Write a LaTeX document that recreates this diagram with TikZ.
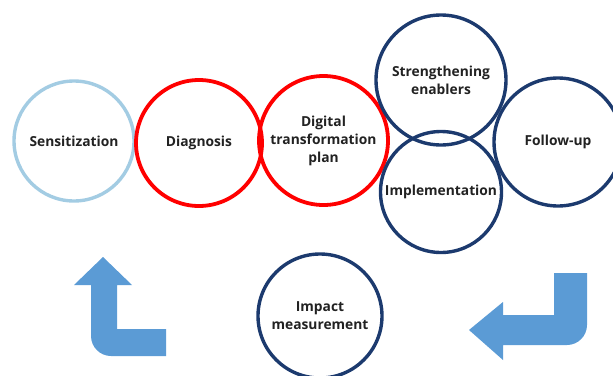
\documentclass[tikz,border=0pt]{standalone}
\usepackage{fontspec}
\setmainfont{Open Sans}
\definecolor{navy}{HTML}{1C3A6E}
\definecolor{paleblue}{HTML}{A3CCE3}
\definecolor{arrowblue}{HTML}{5B9BD5}
\definecolor{labelgray}{HTML}{222222}
\begin{document}
\begin{tikzpicture}[x=1pt,y=-1pt,
  stage/.style={circle,inner sep=0pt,align=center,text=labelgray,
    font=\bfseries\fontsize{13.8}{18}\selectfont},
  navystage/.style={stage,draw=navy,line width=3.4pt},
  redstage/.style={stage,draw=red,line width=3.8pt},
  palestage/.style={stage,draw=paleblue,line width=3.4pt},
  turnarrow/.style={fill=arrowblue,draw=none}]
\useasboundingbox (0,0) rectangle (613,375);
\clip (0,0) rectangle (613,375);

% stages of the cycle
\node[palestage,minimum size=120pt] (sens) at (74,141) {Sensitization};
\node[redstage,minimum size=126pt] (diag) at (199,143) {\raisebox{2pt}{Diagnosis}};
\node[redstage,minimum size=129pt] (plan) at (323.5,140.5) {Digital\\transformation\\plan};
\node[navystage,minimum size=130pt] (enab) at (441,80) {Strengthening\\enablers};
\node[navystage,minimum size=121pt] (impl) at (441,192) {\raisebox{-3pt}{Implementation}};
\node[navystage,minimum size=128pt] (foll) at (558,142) {\raisebox{-3pt}{Follow-up}};
\node[navystage,minimum size=124pt] (meas) at (320,316) {Impact\\measurement};

% return arrow on the right, pointing left
\fill[turnarrow] (554,273) -- (587,273) -- (587,325)
  .. controls (587,336) and (578,345) .. (567,345)
  -- (503,345) -- (503,360) -- (469,330) -- (503,302) -- (503,315)
  -- (554,315) -- cycle;

% turn arrow on the left, pointing up
\fill[turnarrow] (103,257) -- (132,285) -- (117,285) -- (117,329)
  -- (166,329) -- (166,356) -- (111,356)
  .. controls (100,356) and (91,347) .. (91,336)
  -- (91,285) -- (74,285) -- cycle;
\end{tikzpicture}
\end{document}
